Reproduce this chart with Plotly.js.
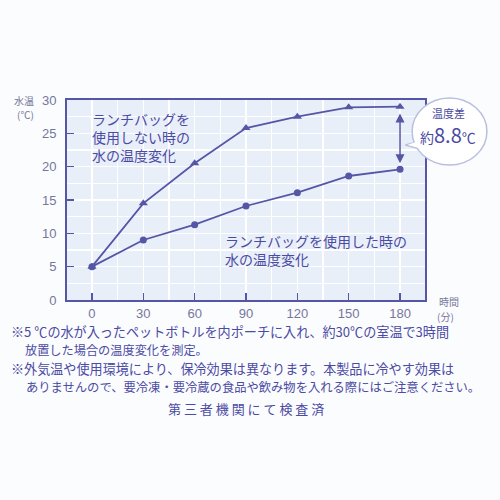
<!DOCTYPE html>
<html><head><meta charset="utf-8">
<script src="https://cdn.plot.ly/plotly-3.0.1.min.js"></script>
<style>html,body{margin:0;padding:0;background:#fbfcfe;}#c{width:500px;height:500px;}</style>
</head><body><div id="c"></div>
<script>
const minutes = [0, 30, 60, 90, 120, 150, 180];
const withoutBag = [5, 14.5, 20.5, 25.8, 27.5, 28.9, 29.0];
const withBag = [5, 9.0, 11.3, 14.1, 16.1, 18.6, 19.6];
const xTicks = [0, 30, 60, 90, 120, 150, 180];
const yTicks = [0, 5, 10, 15, 20, 25, 30];

const lineCol = '#5656a6';
const textCol = '#4b4ba3';
const tickCol = '#76779a';
const font = '"Noto Sans CJK JP", "Noto Sans", sans-serif';

const traces = [
  {x: minutes, y: withoutBag, mode: 'lines+markers', line: {color: lineCol, width: 1.8},
   marker: {symbol: 'triangle-up', size: 8, color: lineCol}, cliponaxis: false, hoverinfo: 'none'},
  {x: minutes, y: withBag, mode: 'lines+markers', line: {color: lineCol, width: 1.8},
   marker: {symbol: 'circle', size: 7, color: lineCol}, cliponaxis: false, hoverinfo: 'none'}
];

function note(text, x, y, size, anchor, color) {
  return {xref: 'paper', yref: 'paper', x: x, y: y, xanchor: anchor || 'left', yanchor: 'middle',
    showarrow: false, text: text, font: {size: size, color: color || textCol}, borderpad: 0};
}
const py = px => (300 - px) / 200;

const last = minutes.length - 1;
const layout = {
  width: 500, height: 500, showlegend: false,
  paper_bgcolor: '#fbfcfe', plot_bgcolor: '#e9eff9',
  margin: {l: 67, r: 75, t: 100, b: 200},
  font: {family: font, color: textCol},
  xaxis: {range: [-14.6, 194.6], tickvals: xTicks, ticktext: xTicks.map(String),
    ticks: 'inside', ticklen: 7, tickwidth: 1.5, tickcolor: lineCol,
    showline: true, linecolor: lineCol, linewidth: 2, mirror: true,
    showgrid: true, gridcolor: '#ffffff', gridwidth: 1.2,
    minor: {dtick: 15, tick0: 0, showgrid: true, gridcolor: '#ffffff', gridwidth: 1.2, ticks: ''},
    zeroline: false, tickfont: {size: 13, color: tickCol, family: 'Liberation Sans, Arial, sans-serif'}},
  yaxis: {range: [0, 30], tickvals: yTicks, ticktext: yTicks.map(String),
    ticks: 'inside', ticklen: 7, tickwidth: 1.5, tickcolor: lineCol,
    showline: true, linecolor: lineCol, linewidth: 2, mirror: true,
    showgrid: true, gridcolor: '#ffffff', gridwidth: 1.2,
    minor: {dtick: 2.5, tick0: 0, showgrid: true, gridcolor: '#ffffff', gridwidth: 1.2, ticks: ''},
    zeroline: false, ticklabelstandoff: 6,
    tickfont: {size: 13, color: tickCol, family: 'Liberation Sans, Arial, sans-serif'}},
  shapes: [
    {type: 'path', xref: 'paper', yref: 'paper', path: 'M 1.0 0.80 L 0.945 0.775 L 1.02 0.74 Z',
     fillcolor: '#ffffff', line: {color: '#b9bfdf', width: 1.5}, layer: 'above'},
    {type: 'circle', xref: 'paper', yref: 'paper', x0: 0.964, x1: 1.173, y0: 0.675, y1: 1.01,
     fillcolor: '#ffffff', line: {color: '#b9bfdf', width: 1.5}, layer: 'above'},
    {type: 'path', xref: 'paper', yref: 'paper', path: 'M 0.99 0.80 L 0.952 0.776 L 1.01 0.745 Z',
     fillcolor: '#ffffff', line: {width: 0}, layer: 'above'}
  ],
  annotations: [
    note('水温', -0.09, py(100), 10, 'right', tickCol),
    note('(℃)', -0.09, py(114.5), 10, 'right', tickCol),
    note('時間', 1.035, py(301.5), 10, 'left', tickCol),
    note('(分)', 1.032, py(316), 10, 'left', tickCol),
    {xref: 'paper', yref: 'paper', x: 0.065, y: 0.965, xanchor: 'left', yanchor: 'top', showarrow: false,
     align: 'left', text: 'ランチバッグを<br>使用しない時の<br>水の温度変化', font: {size: 14, color: textCol}},
    {xref: 'paper', yref: 'paper', x: 0.435, y: 0.355, xanchor: 'left', yanchor: 'top', showarrow: false,
     align: 'left', text: 'ランチバッグを使用した時の<br>水の温度変化', font: {size: 14, color: textCol}},
    note('温度差', 1.067, py(113), 11, 'center'),
    note('約<span style="font-size:20px">8.8</span>℃', 1.065, py(134), 14, 'center'),
    {x: minutes[last], y: withBag[last] + 0.9, ax: minutes[last], ay: withoutBag[last] - 0.8,
     xref: 'x', yref: 'y', axref: 'x', ayref: 'y', text: '', showarrow: true,
     arrowhead: 2, startarrowhead: 2, arrowside: 'end+start', arrowsize: 1.2, arrowwidth: 1.5, arrowcolor: lineCol},
    note('※5 ℃の水が入ったペットボトルを内ポーチに入れ、約30℃の室温で3時間', -0.16, py(331.5), 13.1),
    note('放置した場合の温度変化を測定。', -0.12, py(349.5), 12.2),
    note('※外気温や使用環境により、保冷効果は異なります。本製品に冷やす効果は', -0.16, py(368.5), 13.1),
    note('ありませんので、要冷凍・要冷蔵の食品や飲み物を入れる際にはご注意ください。', -0.117, py(386.5), 12.3),
    note('第 三 者 機 関 に て 検 査 済', 0.5, py(408), 13, 'center')
  ]
};
Plotly.newPlot('c', traces, layout, {staticPlot: true});
</script></body></html>
